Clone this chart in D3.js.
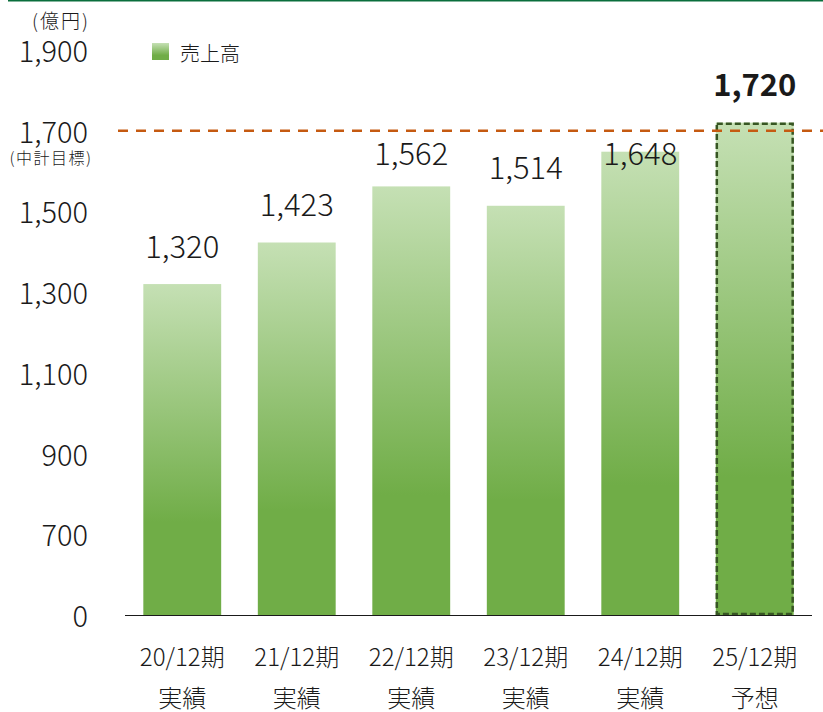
<!DOCTYPE html>
<html>
<head>
<meta charset="utf-8">
<script src="https://cdn.jsdelivr.net/npm/d3@7"></script>
<style>
  body { margin: 0; background: #fff; }
  text { font-family: "Noto Sans CJK JP", "Noto Sans", sans-serif; fill: #1a1a1a; font-weight: 300; }
</style>
</head>
<body>
<svg width="823" height="712"></svg>
<script>
// data
var periods = ['20/12期', '21/12期', '22/12期', '23/12期', '24/12期', '25/12期'];
var kinds = ['実績', '実績', '実績', '実績', '実績', '予想'];
var sales = [1320, 1423, 1562, 1514, 1648, 1720];
var target = 1700;
var yTicks = [500, 700, 900, 1100, 1300, 1500, 1700, 1900];
var yTickLabels = ['0', '700', '900', '1,100', '1,300', '1,500', '1,700', '1,900'];

var svg = d3.select('svg');

// top rule
svg.append('line').attr('x1', 8).attr('x2', 823).attr('y1', 0.5).attr('y2', 0.5)
  .style('stroke', '#0a6e3c').style('stroke-width', 2);

// gradient for bars
var defs = svg.append('defs');
var grad = defs.append('linearGradient').attr('id', 'barGrad').attr('x1', 0).attr('y1', 0).attr('x2', 0).attr('y2', 1);
grad.append('stop').attr('offset', '0%').attr('stop-color', '#c5e0b4');
grad.append('stop').attr('offset', '72%').attr('stop-color', '#70ad47');
grad.append('stop').attr('offset', '100%').attr('stop-color', '#70ad47');

var x = d3.scaleBand().domain(periods).range([125, 812]).paddingInner(0.32).paddingOuter(0.16);
var y = d3.scaleLinear().domain([500, 1900]).range([615, 50]);

// y tick labels
svg.selectAll('.ytick').data(yTicks).enter().append('text')
  .attr('x', 88).attr('y', function(d){ return y(d) - 1; })
  .attr('text-anchor', 'end').attr('dominant-baseline', 'central')
  .style('font-size', '29px')
  .text(function(d, i){ return yTickLabels[i]; });

svg.append('text').attr('x', 61).attr('y', 19).attr('text-anchor', 'middle').attr('dominant-baseline', 'central')
  .style('font-size', '19px').style('letter-spacing', '2px').text('(億円)');
svg.append('text').attr('x', 51).attr('y', 157).attr('text-anchor', 'middle').attr('dominant-baseline', 'central')
  .style('font-size', '16px').style('letter-spacing', '1.5px').text('(中計目標)');

// bars
svg.selectAll('.bar').data(sales).enter().append('rect')
  .attr('x', function(d, i){ return x(periods[i]); })
  .attr('y', function(d){ return y(d); })
  .attr('width', x.bandwidth())
  .attr('height', function(d){ return y(500) - y(d); })
  .style('fill', 'url(#barGrad)');

// forecast outline
var last = sales.length - 1;
svg.append('rect')
  .attr('x', x(periods[last]) + 1).attr('y', y(sales[last]) + 1)
  .attr('width', x.bandwidth() - 2).attr('height', y(500) - y(sales[last]) - 2)
  .style('fill', 'none').style('stroke', '#375623').style('stroke-width', 2.5).style('stroke-dasharray', '6,3');

// x axis line
svg.append('line').attr('x1', 125).attr('x2', 812).attr('y1', y(500) + 0.5).attr('y2', y(500) + 0.5)
  .style('stroke', '#1a1a1a').style('stroke-width', 1);

// target line
svg.append('line').attr('x1', 118).attr('x2', 823).attr('y1', y(target)).attr('y2', y(target))
  .style('stroke', '#c55a11').style('stroke-width', 2.5).style('stroke-dasharray', '10,8');

// value labels
svg.selectAll('.val').data(sales).enter().append('text')
  .attr('x', function(d, i){ return x(periods[i]) + x.bandwidth() / 2; })
  .attr('y', function(d, i){
    var ly = y(d) - 40;
    if (i < last && ly < y(target) + 20) ly = y(target) + 21;
    return ly;
  })
  .attr('text-anchor', 'middle').attr('dominant-baseline', 'central')
  .style('font-size', '31px')
  .style('font-weight', function(d, i){ return i == last ? 'bold' : 300; })
  .text(function(d){ return d3.format(',')(d); });

// x labels
svg.selectAll('.xl').data(periods).enter().append('text')
  .attr('x', function(d){ return x(d) + x.bandwidth() / 2; }).attr('y', 655)
  .attr('text-anchor', 'middle').attr('dominant-baseline', 'central')
  .style('font-size', '24px').text(function(d){ return d; });
svg.selectAll('.xk').data(kinds).enter().append('text')
  .attr('x', function(d, i){ return x(periods[i]) + x.bandwidth() / 2; }).attr('y', 696)
  .attr('text-anchor', 'middle').attr('dominant-baseline', 'central')
  .style('font-size', '24px').text(function(d){ return d; });

// legend
var lg = svg.append('g').attr('transform', 'translate(152,43)');
lg.append('rect').attr('width', 17).attr('height', 17).style('fill', 'url(#barGrad)');
lg.append('text').attr('x', 28).attr('y', 9).attr('dominant-baseline', 'central')
  .style('font-size', '20px').text('売上高');
</script>
</body>
</html>
